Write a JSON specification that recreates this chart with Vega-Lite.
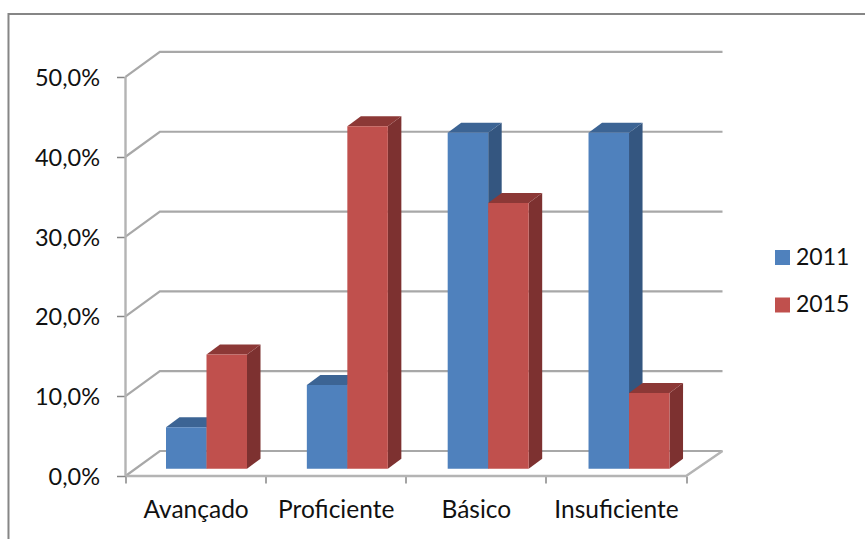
{
  "$schema": "https://vega.github.io/schema/vega-lite/v6.json",
  "width": 597,
  "height": 425,
  "autosize": {"type": "none"},
  "padding": {"left": 125.5, "top": 51, "right": 142.5, "bottom": 63},
  "background": "white",
  "config": {"view": {"stroke": null}, "font": "Lato"},
  "encoding": {},
  "layer": [
    {
      "data": {"values": [{"edge": "chart frame"}]},
      "mark": {"type": "rect", "fillOpacity": 0, "stroke": "#868686", "strokeWidth": 2, "clip": false},
      "encoding": {
        "x": {"datum": -0.835, "type": "quantitative", "scale": {"domain": [0, 4.26], "nice": false, "zero": false}, "title": null,
          "axis": {"values": [0, 0.5, 1, 1.5, 2, 2.5, 3, 3.5, 4], "title": null, "grid": false, "domain": false,
            "labelFontSize": 24.5, "labelColor": "#111111", "labelPadding": 15.5, "labelFlush": false, "tickSize": 7, "tickColor": "#868686", "tickWidth": 1.5,
            "tickOpacity": {"expr": "datum.value % 1 === 0 ? 1 : 0"},
            "labelExpr": "datum.value === 0.5 ? 'Avançado' : datum.value === 1.5 ? 'Proficiente' : datum.value === 2.5 ? 'Básico' : datum.value === 3.5 ? 'Insuficiente' : ''"}},
        "x2": {"datum": 5.3},
        "y": {"datum": 57.9, "type": "quantitative", "scale": {"domain": [0, 53.25], "nice": false, "zero": false}, "title": null,
          "axis": {"values": [0, 10, 20, 30, 40, 50], "title": null, "grid": false, "domain": false,
            "labelFontSize": 23.5, "labelColor": "#111111", "labelPadding": 17, "labelOffset": 1.5, "tickSize": 9, "tickColor": "#868686", "tickWidth": 1.5,
            "labelExpr": "replace(format(datum.value, '.1f'), '.', ',') + '%'"}},
        "y2": {"datum": -9}
      }
    },
    {
      "description": "Back wall gridlines, running from the left edge into depth and across",
      "data": {"values": [{"level": 0}, {"level": 10}, {"level": 20}, {"level": 30}, {"level": 40}, {"level": 50}]},
      "transform": [
        {"calculate": "[0, 0.245, 4.26]", "as": "px"},
        {"calculate": "[datum.level, datum.level + 3.13, datum.level + 3.13]", "as": "py"},
        {"flatten": ["px", "py"]}
      ],
      "mark": {"type": "line", "stroke": "#a8a8a8", "strokeWidth": 2.2, "interpolate": "linear"},
      "encoding": {
        "x": {"field": "px", "type": "quantitative"},
        "y": {"field": "py", "type": "quantitative"},
        "detail": {"field": "level"}
      }
    },
    {
      "description": "Front floor edge and left wall edge",
      "data": {"values": [
        {"edge": "floor", "px": 0, "py": 0},
        {"edge": "floor", "px": 4, "py": 0},
        {"edge": "floor", "px": 4.26, "py": 3.13},
        {"edge": "wall", "px": 0, "py": 0},
        {"edge": "wall", "px": 0, "py": 50}
      ]},
      "mark": {"type": "line", "stroke": "#b4b4b4", "strokeWidth": 2.4, "interpolate": "linear", "orient": "vertical"},
      "encoding": {
        "x": {"field": "px", "type": "quantitative"},
        "y": {"field": "py", "type": "quantitative"},
        "detail": {"field": "edge"},
        "order": {"field": "py"}
      }
    },
    {
      "data": {"values": [
        {"category": "Avançado", "year": 2011, "value": 5.2},
        {"category": "Proficiente", "year": 2011, "value": 10.5},
        {"category": "Básico", "year": 2011, "value": 42.1},
        {"category": "Insuficiente", "year": 2011, "value": 42.1},
        {"category": "Avançado", "year": 2015, "value": 14.3},
        {"category": "Proficiente", "year": 2015, "value": 42.9},
        {"category": "Básico", "year": 2015, "value": 33.3},
        {"category": "Insuficiente", "year": 2015, "value": 9.5}
      ]},
      "transform": [
        {"calculate": "indexof(['Avançado', 'Proficiente', 'Básico', 'Insuficiente'], datum.category) * 1.005 + 0.289 + (datum.year === 2015 ? 0.289 : 0)", "as": "left"},
        {"calculate": "datum.left + 0.289", "as": "right"},
        {"calculate": "0.915", "as": "base"},
        {"calculate": "datum.value + datum.base", "as": "top"}
      ],
      "layer": [
        {
          "transform": [
            {"filter": "datum.year === 2011"},
            {"calculate": "[datum.right, datum.right + 0.0964]", "as": "fx"},
            {"calculate": "[datum.base, datum.base + 1.25]", "as": "flo"},
            {"calculate": "[datum.top, datum.top + 1.25]", "as": "fhi"},
            {"flatten": ["fx", "flo", "fhi"]}
          ],
          "mark": {"type": "area", "fill": "#345680", "orient": "vertical"},
          "encoding": {"x": {"field": "fx", "type": "quantitative"}, "y": {"field": "fhi", "type": "quantitative"}, "y2": {"field": "flo"}, "detail": {"field": "category"}}
        },
        {
          "transform": [
            {"filter": "datum.year === 2011"},
            {"calculate": "[datum.left, datum.left + 0.0964, datum.right, datum.right + 0.0964]", "as": "fx"},
            {"calculate": "[datum.top, datum.top, datum.top, datum.top + 1.25]", "as": "flo"},
            {"calculate": "[datum.top, datum.top + 1.25, datum.top + 1.25, datum.top + 1.25]", "as": "fhi"},
            {"flatten": ["fx", "flo", "fhi"]}
          ],
          "mark": {"type": "area", "fill": "#3c6494", "orient": "vertical"},
          "encoding": {"x": {"field": "fx", "type": "quantitative"}, "y": {"field": "fhi", "type": "quantitative"}, "y2": {"field": "flo"}, "detail": {"field": "category"}}
        },
        {
          "transform": [{"filter": "datum.year === 2011"}],
          "mark": {"type": "rect"},
          "encoding": {
            "x": {"field": "left", "type": "quantitative"}, "x2": {"field": "right"},
            "y": {"field": "top", "type": "quantitative"}, "y2": {"field": "base"},
            "color": {"field": "year", "type": "nominal", "scale": {"domain": [2011, 2015], "range": ["#4f81bd", "#c0504d"]},
              "legend": {"title": null, "orient": "none", "legendX": 645.5, "legendY": 195, "symbolType": "square", "symbolSize": 225, "symbolStrokeWidth": 0, "labelFontSize": 23, "labelColor": "#111111", "rowPadding": 23.5, "labelOffset": 2}}
          }
        },
        {
          "transform": [
            {"filter": "datum.year === 2015"},
            {"calculate": "[datum.right, datum.right + 0.0964]", "as": "fx"},
            {"calculate": "[datum.base, datum.base + 1.25]", "as": "flo"},
            {"calculate": "[datum.top, datum.top + 1.25]", "as": "fhi"},
            {"flatten": ["fx", "flo", "fhi"]}
          ],
          "mark": {"type": "area", "fill": "#7d3130", "orient": "vertical"},
          "encoding": {"x": {"field": "fx", "type": "quantitative"}, "y": {"field": "fhi", "type": "quantitative"}, "y2": {"field": "flo"}, "detail": {"field": "category"}}
        },
        {
          "transform": [
            {"filter": "datum.year === 2015"},
            {"calculate": "[datum.left, datum.left + 0.0964, datum.right, datum.right + 0.0964]", "as": "fx"},
            {"calculate": "[datum.top, datum.top, datum.top, datum.top + 1.25]", "as": "flo"},
            {"calculate": "[datum.top, datum.top + 1.25, datum.top + 1.25, datum.top + 1.25]", "as": "fhi"},
            {"flatten": ["fx", "flo", "fhi"]}
          ],
          "mark": {"type": "area", "fill": "#8c3836", "orient": "vertical"},
          "encoding": {"x": {"field": "fx", "type": "quantitative"}, "y": {"field": "fhi", "type": "quantitative"}, "y2": {"field": "flo"}, "detail": {"field": "category"}}
        },
        {
          "transform": [{"filter": "datum.year === 2015"}],
          "mark": {"type": "rect"},
          "encoding": {
            "x": {"field": "left", "type": "quantitative"}, "x2": {"field": "right"},
            "y": {"field": "top", "type": "quantitative"}, "y2": {"field": "base"},
            "color": {"field": "year", "type": "nominal", "scale": {"domain": [2011, 2015], "range": ["#4f81bd", "#c0504d"]}}
          }
        }
      ]
    }
  ]
}
